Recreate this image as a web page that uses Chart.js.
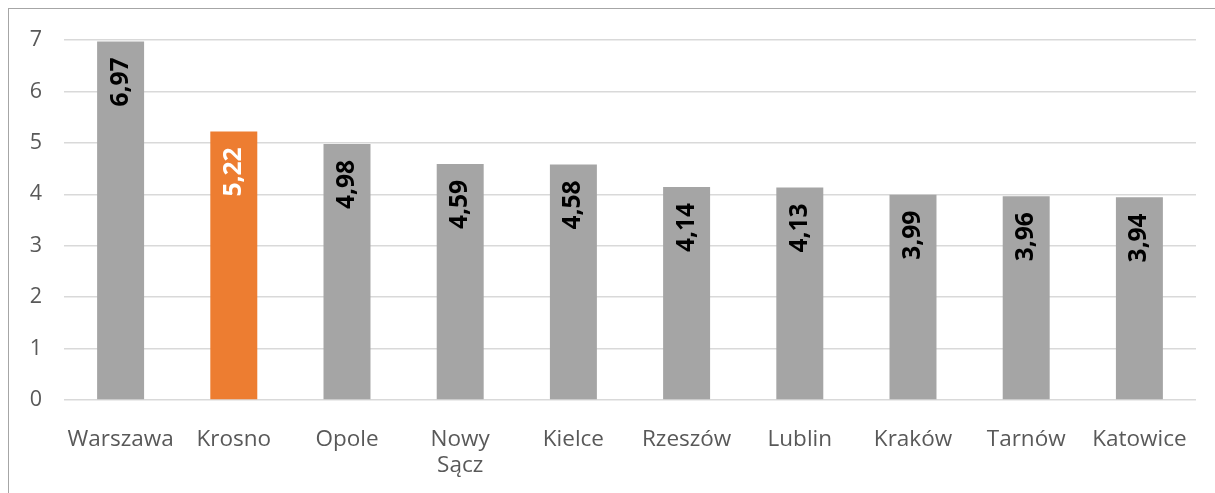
<!DOCTYPE html>
<html lang="pl">

<head>
    <meta charset="UTF-8" />
    <title>Wskaźnik - miasta</title>
    <script src="https://cdn.jsdelivr.net/npm/chart.js"></script>
    <style>
        html,
        body {
            margin: 0;
            padding: 0;
            background: #ffffff;
            overflow: hidden;
        }

        .frame {
            position: absolute;
            left: 8px;
            top: 8px;
            width: 1240px;
            height: 520px;
            border: 1.5px solid #a6a6a6;
        }

        #chart {
            position: absolute;
            left: 0;
            top: 0;
        }
    </style>
</head>

<body>
    <div class="frame"></div>
    <canvas id="chart" width="1215" height="493"></canvas>

    <script>
        // Data
        const categories = [
            "Warszawa",
            "Krosno",
            "Opole",
            ["Nowy", "Sącz"],
            "Kielce",
            "Rzeszów",
            "Lublin",
            "Kraków",
            "Tarnów",
            "Katowice",
        ];
        const values = [6.97, 5.22, 4.98, 4.59, 4.58, 4.14, 4.13, 3.99, 3.96, 3.94];
        const yTicks = [0, 1, 2, 3, 4, 5, 6, 7];
        const highlightIndex = 1; // Krosno

        const barColors = values.map((v, i) => (i === highlightIndex ? "#ED7D31" : "#A5A5A5"));
        const labelColors = values.map((v, i) => (i === highlightIndex ? "#ffffff" : "#000000"));

        // rotated value labels inside the top of each bar
        const barLabels = {
            id: "barLabels",
            afterDatasetsDraw(chart) {
                const ctx = chart.ctx;
                const meta = chart.getDatasetMeta(0);
                ctx.save();
                ctx.font = "bold 24.5px 'Open Sans'";
                ctx.textAlign = "right";
                ctx.textBaseline = "middle";
                meta.data.forEach((bar, i) => {
                    const text = values[i].toFixed(2).replace(".", ",");
                    ctx.save();
                    ctx.translate(bar.x, bar.y + 16);
                    ctx.rotate(-Math.PI / 2);
                    ctx.fillStyle = labelColors[i];
                    ctx.fillText(text, 0, 0);
                    ctx.restore();
                });
                ctx.restore();
            },
        };

        const ctx = document.getElementById("chart").getContext("2d");
        const chart = new Chart(ctx, {
            type: "bar",
            data: {
                labels: categories,
                datasets: [
                    {
                        data: values,
                        backgroundColor: barColors,
                        borderWidth: 0,
                        barPercentage: 0.415,
                        categoryPercentage: 1,
                    },
                ],
            },
            options: {
                responsive: false,
                animation: false,
                layout: {
                    padding: { top: 40, right: 19, bottom: 0, left: 0 },
                },
                plugins: {
                    legend: { display: false },
                    tooltip: { enabled: false },
                },
                scales: {
                    x: {
                        grid: { display: false },
                        border: { display: false },
                        ticks: {
                            color: "#595959",
                            padding: 18,
                            maxRotation: 0,
                            autoSkip: false,
                            font: { family: "'Open Sans'", size: 22.5, lineHeight: 1.18 },
                        },
                        afterFit(scale) {
                            scale.height = 93;
                        },
                    },
                    y: {
                        min: 0,
                        max: 7,
                        afterBuildTicks(scale) {
                            scale.ticks = yTicks.map((v) => ({ value: v }));
                        },
                        grid: {
                            color: "#d9d9d9",
                            lineWidth: 1.5,
                            drawTicks: false,
                        },
                        border: { display: false },
                        ticks: {
                            color: "#595959",
                            padding: 22,
                            font: { family: "'Open Sans'", size: 21.5 },
                        },
                        afterFit(scale) {
                            scale.width = 64;
                        },
                    },
                },
            },
            plugins: [barLabels],
        });
    </script>
</body>

</html>
